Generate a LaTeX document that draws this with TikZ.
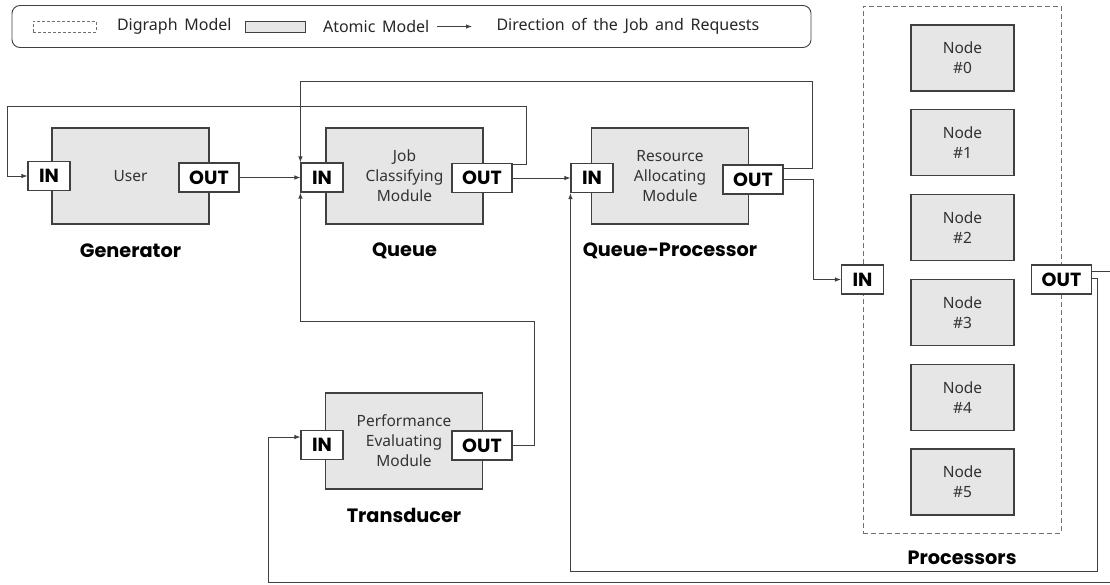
\documentclass[tikz,border=0pt]{standalone}
\usepackage{fontspec}
\setmainfont{Noto Sans}
\newfontfamily\legendfont{Noto Sans}[WordSpace=1.6]
\newfontfamily\labelfont{Poppins}
\usepackage{xcolor}
\usetikzlibrary{arrows.meta, calc, positioning}
\definecolor{boxgray}{HTML}{E6E6E6}
\definecolor{linegray}{HTML}{404040}
\definecolor{dashgray}{HTML}{707070}
\tikzset{
  atomicbox/.style={
    draw=linegray, fill=boxgray, line width=1.1pt, align=center,
    minimum width=157pt, minimum height=96pt, inner sep=2pt,
    text=black!80, font=\fontsize{15.5}{20}\selectfont
  },
  portbox/.style={
    draw=linegray, fill=white, line width=1.1pt, inner sep=0pt,
    minimum height=29pt, font=\labelfont\bfseries\fontsize{19}{22}\selectfont
  },
  inport/.style={portbox, minimum width=42pt},
  outport/.style={portbox, minimum width=60pt},
  modellabel/.style={
    font=\labelfont\bfseries\fontsize{19.3}{22}\selectfont
  },
  cpunode/.style={
    atomicbox, minimum width=103pt, minimum height=66pt
  },
  digraphbox/.style={
    draw=dashgray, line width=1pt, dash pattern=on 5pt off 3pt
  },
  legendtext/.style={
    font=\legendfont\fontsize{16}{20}\selectfont, text=black!85
  },
  wire/.style={line width=0.9pt, draw=linegray},
  flow/.style={wire, -{Latex[length=6pt,width=4.5pt]}},
}
\begin{document}
\begin{tikzpicture}[x=1pt, y=-1pt]
  \useasboundingbox (0,0) rectangle (1110,584);

  % Legend
  \node[draw=linegray, line width=0.9pt, rounded corners=8pt,
    minimum width=799pt, minimum height=42pt] (legend) at (411.5,26.5) {};
  \node[digraphbox, line width=0.8pt, dash pattern=on 3pt off 2pt,
    minimum width=63pt, minimum height=11pt] (leg-digraph) at (64.5,26.5) {};
  \node[legendtext, anchor=west] (leg-digraph-txt) at (113.5,26.5) {Digraph Model};
  \node[atomicbox, line width=0.8pt, minimum width=60pt,
    minimum height=11pt] (leg-atomic) at (275,27) {};
  \node[legendtext, anchor=west] (leg-atomic-txt) at (319.5,26.5) {Atomic Model};
  \coordinate (leg-arrow-start) at (437,26.5);
  \coordinate (leg-arrow-end) at (472,26.5);
  \draw[flow] (leg-arrow-start) -- (leg-arrow-end);
  \node[legendtext, anchor=west] (leg-dir-txt) at (493,26.5)
    {Direction of the Job and Requests};

  % Processors (digraph)
  \node[digraphbox, minimum width=198pt, minimum height=527pt]
    (procs) at (962,269.5) {};
  \foreach \i in {0,...,5}
    \node[cpunode] (cpu\i) at (962.5,{58+84.8*\i}) {Node\\\#\i};
  \node[inport] (p-in) at (862.5,279.5) {IN};
  \node[outport] (p-out) at (1061.5,279.5) {OUT};
  \node[modellabel] (p-lbl) at (962,558) {Processors};

  % Generator
  \node[atomicbox] (gen) at (130.5,176) {User};
  \node[inport] (gen-in) at (49,176) {IN};
  \node[outport] (gen-out) at (209,177.5) {OUT};
  \node[modellabel] (gen-lbl) at (130.5,251) {Generator};

  % Queue
  \node[atomicbox] (queue) at (404.5,176) {Job\\Classifying\\Module};
  \node[inport] (q-in) at (322,177.5) {IN};
  \node[outport] (q-out) at (482,178) {OUT};
  \node[modellabel] (q-lbl) at (404.5,251) {Queue};

  % Queue-Processor
  \node[atomicbox] (qp) at (670,176) {Resource\\Allocating\\Module};
  \node[inport] (qp-in) at (592,178) {IN};
  \node[outport] (qp-out) at (753,179.5) {OUT};
  \node[modellabel] (qp-lbl) at (670,251) {Queue-Processor};

  % Transducer
  \node[atomicbox] (tr) at (404,441) {Performance\\Evaluating\\Module};
  \node[inport] (tr-in) at (322,445) {IN};
  \node[outport] (tr-out) at (482,445.5) {OUT};
  \node[modellabel] (tr-lbl) at (404,515) {Transducer};

  % Jobs forward
  \draw[flow] (gen-out) -- (q-in);
  \draw[flow] (q-out) -- (qp-in);
  \draw[flow] (qp-out.east) -- ++(30,0) |- (p-in.west);

  % Feedback loops
  \draw[flow] ($(q-out.north east)+(0,1.5)$) -| (526,106) -| (7,176) -- (gen-in.west);
  \draw[flow] ($(qp-out.north east)+(0,4)$) -| (812,81) -| (q-in.north west);
  \draw[flow] (tr-out.east) -| (534,321) -| (q-in.south west);
  \draw[flow] ($(p-out.east)+(0,-1.5)$) -| (1097,571) -| (qp-in.south west);
  \draw[flow] ($(p-out.east)+(0,-8.5)$) -| (1116,582) -| (268,437)
    -- ($(tr-in.west)+(0,-8)$);
\end{tikzpicture}
\end{document}
